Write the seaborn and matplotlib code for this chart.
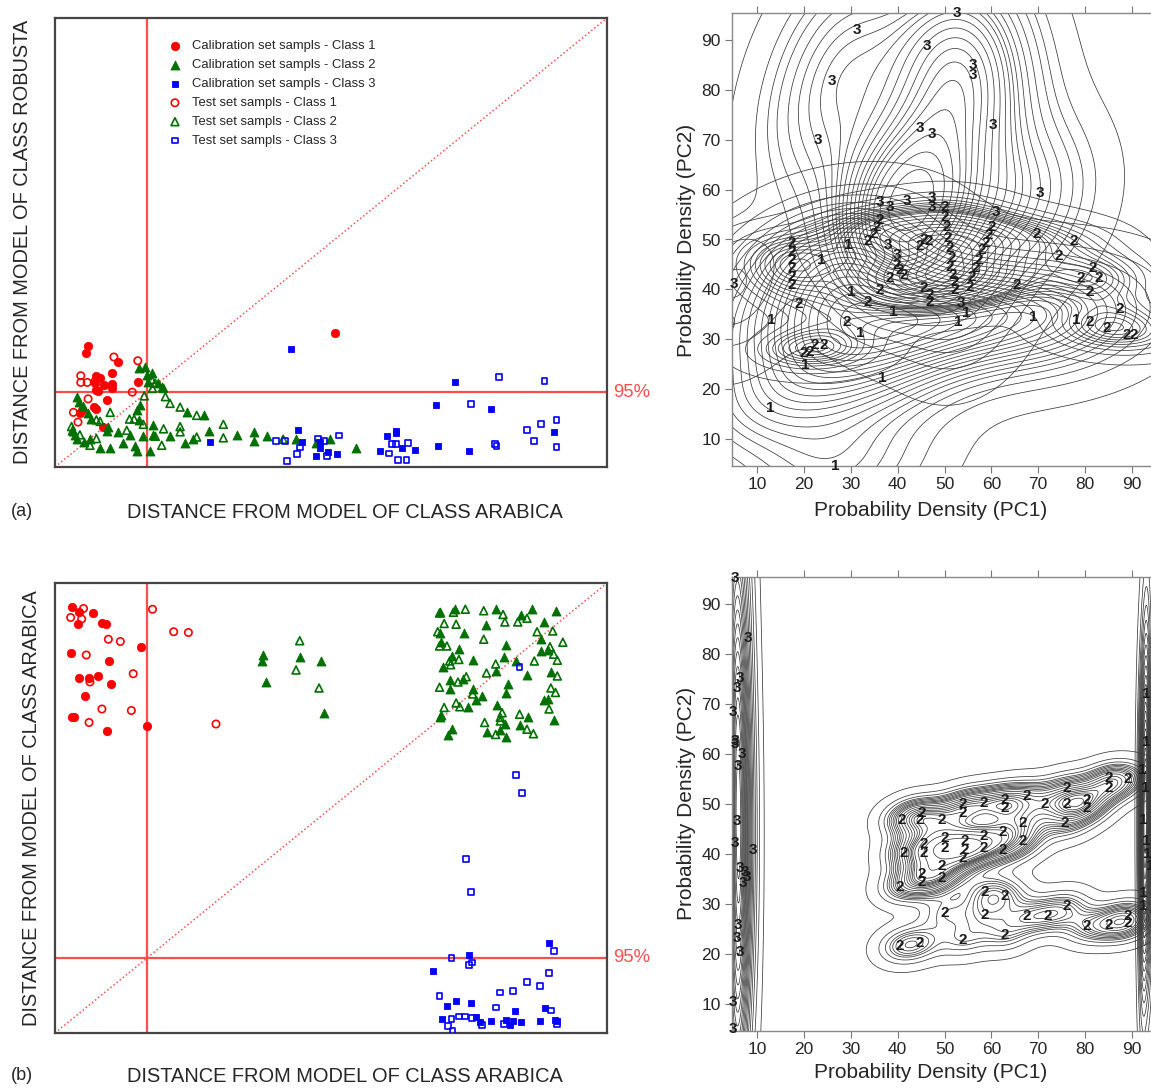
import numpy as np
import matplotlib
matplotlib.use("Agg")
import matplotlib.pyplot as plt
import seaborn as sns

# ---------------- data : panel (a) Coomans plot, Robusta vs Arabica ----------------
cal1_a_x = [0.36,0.34,0.69,0.62,0.45,0.49,0.44,0.53,0.62,0.62,0.45,0.47,0.90,0.56,0.29,0.45,0.42,0.27,0.52,3.04]
cal1_a_y = [1.62,1.52,1.40,1.26,1.22,1.19,1.12,1.10,1.11,1.05,1.03,1.01,1.13,0.90,0.76,0.77,0.80,0.72,0.53,1.79]
test1_a_x = [0.64,0.90,0.28,0.28,0.35,0.43,0.84,0.36,0.20,0.25]
test1_a_y = [1.47,1.42,1.22,1.13,1.13,1.14,1.00,0.91,0.73,0.60]
cal2_a_x = [0.91,0.98,1.00,1.01,1.05,1.12,1.16,0.24,0.26,0.30,0.36,0.39,0.89,0.91,0.92,0.58,0.69,0.82,0.96,1.07,
            1.07,1.25,1.43,1.62,0.24,0.31,0.38,0.49,0.60,0.74,0.87,1.03,0.89,1.41,1.50,1.67,1.98,2.16,2.16,2.30,
            2.62,2.84,2.99,3.27,0.18,0.22,0.56]
cal2_a_y = [1.32,1.33,1.23,1.14,1.25,1.12,1.07,0.94,0.87,0.82,0.72,0.64,0.76,0.63,0.83,0.54,0.47,0.43,0.41,0.56,
            0.43,0.41,0.74,0.69,0.38,0.34,0.37,0.26,0.25,0.32,0.28,0.22,0.22,0.32,0.38,0.48,0.43,0.47,0.35,0.41,
            0.37,0.32,0.37,0.26,0.49,0.43,0.48]
test2_a_x = [1.05,1.09,1.06,1.18,0.97,1.20,1.25,1.36,1.54,0.60,0.81,0.86,0.96,1.18,1.36,1.36,1.83,1.83,1.54,1.09,
             1.16,0.78,0.45,0.49,0.18,0.20,0.27,0.38,0.45,2.48]
test2_a_y = [1.17,1.12,1.05,1.05,0.95,0.94,0.85,0.80,0.69,0.73,0.64,0.64,0.57,0.51,0.54,0.47,0.57,0.39,0.40,0.41,
             0.29,0.49,0.63,0.61,0.54,0.47,0.43,0.29,0.38,0.37]
cal3_a_x = [2.56,1.68,2.64,2.68,2.88,2.88,2.84,2.97,3.07,4.35,4.14,4.74,3.71,3.61,3.71,3.77,3.91,4.16,4.50,3.53,5.42]
cal3_a_y = [1.58,0.34,0.50,0.34,0.34,0.26,0.15,0.20,0.17,1.14,0.83,0.78,0.48,0.41,0.45,0.25,0.23,0.28,0.21,0.21,0.47]
test3_a_x = [2.40,2.50,2.66,2.63,2.52,2.86,2.92,2.96,3.09,4.83,5.32,4.52,5.13,5.28,5.45,5.21,5.45,4.78,4.80,3.66,
             3.71,3.84,3.63,3.73,3.82]
test3_a_y = [0.35,0.35,0.26,0.17,0.08,0.38,0.35,0.15,0.42,1.20,1.15,0.84,0.49,0.57,0.63,0.35,0.27,0.31,0.28,0.31,
             0.31,0.32,0.18,0.09,0.09]

# ---------------- data : panel (b) Coomans plot, Arabica vs Arabica ----------------
cal1_b_x = [0.18,0.26,0.41,0.25,0.51,0.55,0.94,0.17,0.59,0.26,0.37,0.47,0.61,0.33,0.18,0.21,1.00,0.57]
cal1_b_y = [5.68,5.62,5.60,5.46,5.47,5.45,5.15,5.07,4.96,4.73,4.74,4.76,4.66,4.50,4.22,4.22,4.10,4.03]
test1_b_x = [0.31,0.17,0.29,1.06,1.29,1.45,0.58,0.71,0.34,0.85,0.38,0.51,0.83,0.37,1.75]
test1_b_y = [5.66,5.54,5.52,5.65,5.35,5.34,5.25,5.22,5.04,4.79,4.68,4.32,4.30,4.14,4.12]
cal2_b_x = [2.26,2.25,2.66,2.89,2.29,2.92,
            4.19,4.35,4.79,5.19,5.45,5.07,4.69,4.45,4.19,4.20,4.39,4.54,4.22,4.32,4.90,4.88,5.01,4.79,5.13,
            5.32,5.28,5.36,5.28,5.39,4.29,4.43,4.29,4.54,4.92,4.90,4.58,4.64,4.49,4.80,5.31,5.36,4.20,4.18,
            5.14,5.42,4.32,4.27,4.70,4.89,5.05,4.90,4.84]
cal2_b_y = [5.04,4.96,5.02,4.96,4.68,4.27,
            5.62,5.65,5.65,5.65,5.63,5.58,5.44,5.34,5.33,5.22,5.12,4.98,4.88,5.03,5.17,5.02,4.96,4.83,4.77,
            5.48,5.26,5.11,5.10,4.82,4.71,4.72,4.59,4.59,4.66,4.54,4.44,4.49,4.35,4.37,4.44,4.45,4.24,4.21,
            4.22,4.17,4.06,3.97,4.02,4.12,4.11,3.95,4.04]
test2_b_x = [2.66,2.62,2.87,
             4.46,4.66,4.33,4.18,4.87,4.89,5.03,5.13,4.23,4.36,4.16,4.66,4.18,4.26,5.24,5.41,5.52,5.38,5.42,
             5.46,4.39,4.29,4.30,4.69,4.79,5.21,5.46,4.47,4.38,4.18,5.39,5.44,4.54,4.36,4.40,4.23,5.37,4.86,
             4.84,4.84,5.05,4.67,5.13,5.20,4.79]
test2_b_y = [5.23,4.84,4.60,
             5.65,5.63,5.61,5.60,5.58,5.48,5.48,5.53,5.46,5.45,5.35,5.25,5.16,5.16,5.35,5.36,5.21,5.15,5.05,
             4.97,4.98,4.96,4.91,4.80,4.92,4.96,4.76,4.75,4.68,4.61,4.60,4.54,4.52,4.40,4.35,4.34,4.32,4.27,
             4.21,4.16,4.25,4.14,4.05,3.99,3.98]
cal3_b_x = [5.37,4.50,4.11,4.36,4.26,4.52,4.21,4.58,4.62,4.74,4.90,4.95,5.00,4.98,5.07,5.27,5.33,5.44,5.46]
cal3_b_y = [1.20,1.04,0.83,0.43,0.36,0.40,0.19,0.22,0.15,0.16,0.17,0.11,0.30,0.16,0.15,0.16,0.34,0.18,0.16]
test3_b_x = [5.05,5.01,5.08,4.47,4.52,4.31,4.50,4.53,5.42,5.37,5.13,5.27,4.84,4.98,4.18,4.79,5.39,4.31,4.39,
             4.46,4.53,4.27,4.32,4.64,4.88,5.46]
test3_b_y = [4.88,3.44,3.20,2.32,1.88,1.00,0.91,0.94,1.09,0.80,0.68,0.63,0.54,0.56,0.49,0.34,0.30,0.19,0.22,
             0.22,0.20,0.09,0.03,0.11,0.12,0.12]

CRIT = 1.0           # 95% critical distance (both axes)
LIM = [0.0, 6.0]     # Coomans axes range

# ---------------- data : panel (c) probability density, PCA scores ----------------
c3_x = [52.6,31.3,46.2,56.0,56.0,25.9,44.8,47.4,60.4,22.9,70.4,36.2,38.3,41.9,47.4,47.4,60.9,38.0,39.8,53.6,5.0]
c3_y = [95.4,91.9,88.7,84.9,83.0,81.8,72.3,71.1,73.0,70.0,59.3,57.6,56.5,57.8,58.3,56.5,55.6,48.9,46.9,37.2,41.0]
c2_x = [17.5,17.5,17.5,17.5,17.5,17.5,18.8,29.1,36.2,35.5,34.8,33.7,39.8,40.5,41.2,38.4,36.2,33.7,45.5,46.6,
        44.8,50.1,50.1,50.5,50.8,51.2,51.5,51.2,51.8,52.2,52.2,45.5,46.9,46.9,60.1,59.4,58.7,58.0,57.3,56.6,
        55.8,55.4,69.7,77.5,74.3,81.7,79.0,82.9,81.0,65.4,87.4,81.0,84.6,88.9,90.3,19.9,21.3,22.4,24.2]
c2_y = [49.3,47.5,45.9,44.3,42.5,40.9,37.1,33.5,53.9,52.6,51.2,49.6,44.9,43.9,42.9,42.2,39.9,37.5,49.9,49.6,
        48.6,56.5,54.5,52.5,50.3,48.3,46.3,44.5,42.9,41.5,39.9,40.2,38.9,37.5,52.6,50.9,49.2,47.9,45.9,44.2,
        42.5,40.5,51.2,49.6,46.6,44.2,42.2,42.2,39.5,40.9,36.1,33.5,32.2,30.9,30.9,27.2,27.5,28.9,28.9]
c1_x = [23.6,29.5,30.2,39.1,13.1,32.0,54.7,52.9,69.0,78.2,20.2,36.8,12.8,26.6]
c1_y = [45.9,48.9,39.5,35.5,33.9,31.2,35.2,33.5,34.5,33.9,24.8,22.2,16.2,4.5]

# ---------------- data : panel (d) probability density, second model ----------------
d3_x = [5.3,8.1,6.4,5.7,4.9,5.3,5.3,6.7,6.0,5.7,5.3,9.2,6.4,7.4,7.8,7.1,6.0,5.7,6.4,4.9,4.9]
d3_y = [95.3,83.3,75.3,73.3,68.3,62.6,61.9,59.9,57.6,46.6,42.2,40.9,37.2,36.5,35.4,34.2,25.8,23.2,20.5,10.5,5.0]
d2_x = [76.1,85.0,85.0,89.2,67.5,71.4,62.9,58.3,54.0,54.0,62.9,76.1,80.3,80.3,40.9,44.8,45.1,49.4,41.2,45.5,
        45.5,50.1,50.1,54.4,54.4,58.3,58.3,62.5,62.5,66.8,66.8,75.7,54.0,40.5,45.1,45.1,49.4,49.4,58.6,62.9,
        50.1,58.6,67.5,72.1,76.1,80.3,85.0,89.2,89.2,40.5,44.8,54.0,62.9]
d2_y = [53.3,55.1,53.3,55.0,51.6,49.9,50.9,50.2,49.9,48.2,49.2,49.9,50.9,49.2,46.9,46.9,48.2,46.9,40.2,41.9,
        40.2,43.2,41.2,42.6,40.9,43.5,41.2,44.5,40.9,46.2,42.6,46.2,39.2,33.4,35.9,34.5,37.5,35.2,32.5,31.7,
        28.2,27.8,27.5,27.5,29.5,25.5,25.8,27.5,26.2,21.5,22.2,22.8,23.8]
d1_x = [93.1,93.1,92.1,92.8,92.4,92.4,92.4,93.1,93.3,93.8]
d1_y = [72.0,62.3,56.9,53.3,32.2,29.5,46.9,42.6,39.9,37.5]

PC_TICKS = [10, 20, 30, 40, 50, 60, 70, 80, 90]
PC_LIM = (4.6, 95.4)

# ---------------- style ----------------
sns.set_theme(style="white")
plt.rcParams['font.family'] = ['Liberation Sans', 'DejaVu Sans']

RED, GREEN, BLUE = '#ff0000', '#007000', '#0000ff'
LRED = '#ff4d4d'

W, H = 1151, 1088
fig = plt.figure(figsize=(W / 100, H / 100), dpi=100)


def box(l, t, r, b):
    return [l / W, 1 - b / H, (r - l) / W, (b - t) / H]


ax_a = fig.add_axes(box(55, 18, 607, 467))
ax_b = fig.add_axes(box(55, 583, 607, 1033))
ax_c = fig.add_axes(box(731.7, 13, 1157.3, 466))
ax_d = fig.add_axes(box(731.7, 577, 1157.3, 1031))

LABELS = ['Calibration set sampls - Class 1', 'Calibration set sampls - Class 2',
          'Calibration set sampls - Class 3', 'Test set sampls - Class 1',
          'Test set sampls - Class 2', 'Test set sampls - Class 3']
STYLES = [('o', RED, True, 36), ('^', GREEN, True, 42), ('s', BLUE, True, 22),
          ('o', RED, False, 28), ('^', GREEN, False, 32), ('s', BLUE, False, 17)]


def coomans(ax, series, legend):
    for (xs, ys), lab, (m, c, filled, s) in zip(series, LABELS, STYLES):
        sns.scatterplot(x=xs, y=ys, ax=ax, marker=m, s=s, color=c, edgecolor=c,
                        facecolor=(c if filled else 'none'),
                        linewidth=(0.6 if filled else 1.2), label=lab, legend=False, zorder=3)
    ax.axvline(CRIT, color=LRED, lw=1.6, zorder=2)
    ax.axhline(CRIT, color=LRED, lw=1.6, zorder=2)
    ax.plot(LIM, LIM, color=LRED, lw=1.1, ls=(0, (1, 1.6)), zorder=2)
    ax.text(1.012, CRIT, '95%', transform=ax.get_yaxis_transform(), color=LRED,
            fontsize=13.3, va='center', ha='left')
    ax.set_xlim(LIM)
    ax.set_ylim(LIM)
    ax.set_xticks([])
    ax.set_yticks([])
    for sp in ax.spines.values():
        sp.set_color('#444444')
        sp.set_linewidth(1.6)
    if legend:
        ax.legend(loc='upper left', bbox_to_anchor=(0.196, 0.962), frameon=False,
                  fontsize=9.4, handletextpad=0.8, labelspacing=0.52, handlelength=1.0,
                  borderaxespad=0, borderpad=0.4)
    else:
        lg = ax.get_legend()
        if lg is not None:
            lg.remove()


coomans(ax_a, [(cal1_a_x, cal1_a_y), (cal2_a_x, cal2_a_y), (cal3_a_x, cal3_a_y),
               (test1_a_x, test1_a_y), (test2_a_x, test2_a_y), (test3_a_x, test3_a_y)], True)
coomans(ax_b, [(cal1_b_x, cal1_b_y), (cal2_b_x, cal2_b_y), (cal3_b_x, cal3_b_y),
               (test1_b_x, test1_b_y), (test2_b_x, test2_b_y), (test3_b_x, test3_b_y)], False)

LBL = 14.4
fig.text(345 / W, 1 - 513 / H, 'DISTANCE FROM MODEL OF CLASS ARABICA', fontsize=LBL, ha='center', va='center')
fig.text(345 / W, 1 - 1076 / H, 'DISTANCE FROM MODEL OF CLASS ARABICA', fontsize=LBL, ha='center', va='center')
fig.text(23 / W, 1 - 242 / H, 'DISTANCE FROM MODEL OF CLASS ROBUSTA', fontsize=LBL, ha='center', va='center',
         rotation=90)
fig.text(32 / W, 1 - 808 / H, 'DISTANCE FROM MODEL OF CLASS ARABICA', fontsize=LBL, ha='center', va='center',
         rotation=90)
fig.text(22 / W, 1 - 511 / H, '(a)', fontsize=13, ha='center', va='center')
fig.text(22 / W, 1 - 1076 / H, '(b)', fontsize=13, ha='center', va='center')


def density(ax, classes, bw):
    for (xs, ys, lab), b in zip(classes, bw):
        sns.kdeplot(x=xs, y=ys, ax=ax, levels=22, thresh=0.015, color='#3a3a3a',
                    linewidths=0.55, bw_adjust=b)
        for x, y in zip(xs, ys):
            ax.text(x, y, lab, fontsize=11, fontweight='bold', ha='center', va='center',
                    color='#1a1a1a', clip_on=False, zorder=5)
    ax.set_xlim(PC_LIM)
    ax.set_ylim(PC_LIM)
    ax.set_xticks(PC_TICKS)
    ax.set_yticks(PC_TICKS)
    ax.tick_params(direction='out', length=5, width=0.8, color='#777777', labelsize=12.5,
                   top=True, labeltop=False, left=True, bottom=True, right=False, pad=3)
    for k, sp in ax.spines.items():
        sp.set_color('#888888')
        sp.set_linewidth(1.0)
    ax.spines['right'].set_visible(False)
    ax.set_xlabel('')
    ax.set_ylabel('')


density(ax_c, [(c1_x, c1_y, '1'), (c2_x, c2_y, '2'), (c3_x, c3_y, '3')], [1.0, 0.8, 1.0])
density(ax_d, [(d1_x, d1_y, '1'), (d2_x, d2_y, '2'), (d3_x, d3_y, '3')], [1.8, 0.5, 1.8])

fig.text(931 / W, 1 - 511 / H, 'Probability Density (PC1)', fontsize=15, ha='center', va='center')
fig.text(931 / W, 1 - 1073 / H, 'Probability Density (PC1)', fontsize=15, ha='center', va='center')
fig.text(686 / W, 1 - 240 / H, 'Probability Density (PC2)', fontsize=15, ha='center', va='center', rotation=90)
fig.text(686 / W, 1 - 803 / H, 'Probability Density (PC2)', fontsize=15, ha='center', va='center', rotation=90)

fig.savefig('out.png', dpi=100)
